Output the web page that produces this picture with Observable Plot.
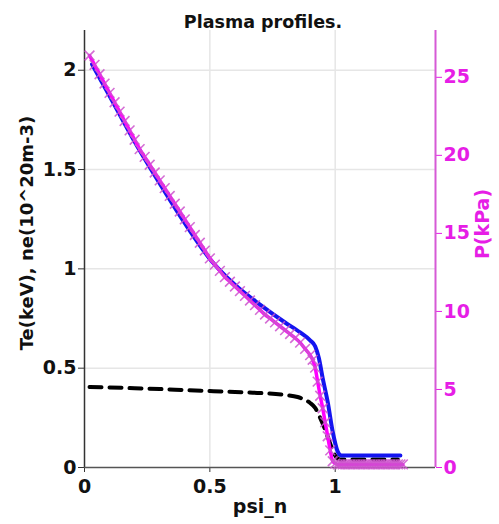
<!DOCTYPE html>
<html>
<head>
<meta charset="utf-8">
<script src="https://cdn.jsdelivr.net/npm/d3@7"></script>
<script src="https://cdn.jsdelivr.net/npm/@observablehq/plot@0.6"></script>
<style>
  html, body { margin: 0; padding: 0; background: #fff; }
</style>
</head>
<body>
<div id="chart"></div>
<script>
// Te (keV), blue solid
const tePsi = [0.03, 0.1, 0.2, 0.3, 0.4, 0.5, 0.6, 0.7, 0.8, 0.86, 0.9, 0.92, 0.935, 0.95, 0.97, 0.99, 1.01, 1.025, 1.1, 1.2, 1.26];
const teVal = [2.03, 1.87, 1.64, 1.43, 1.23, 1.05, 0.92, 0.82, 0.73, 0.68, 0.64, 0.61, 0.55, 0.45, 0.33, 0.18, 0.08, 0.06, 0.06, 0.06, 0.06];

// ne (10^20 m-3), black dashed
const nePsi = [0.02, 0.1, 0.2, 0.3, 0.4, 0.5, 0.6, 0.7, 0.8, 0.85, 0.88, 0.9, 0.92, 0.94, 0.96, 0.98, 1.0, 1.02, 1.1, 1.2, 1.25];
const neVal = [0.405, 0.403, 0.399, 0.395, 0.39, 0.385, 0.38, 0.375, 0.365, 0.355, 0.34, 0.325, 0.30, 0.25, 0.19, 0.12, 0.06, 0.04, 0.04, 0.04, 0.04];

// P (kPa), magenta with x markers
const pPsi = [0.02, 0.04, 0.06, 0.08, 0.10, 0.12, 0.14, 0.16, 0.18, 0.20, 0.22, 0.24, 0.26, 0.28, 0.30,
  0.32, 0.34, 0.36, 0.38, 0.40, 0.42, 0.44, 0.46, 0.48, 0.50, 0.52, 0.54, 0.56, 0.58, 0.60,
  0.62, 0.64, 0.66, 0.68, 0.70, 0.72, 0.74, 0.76, 0.78, 0.80, 0.82, 0.84, 0.86, 0.88, 0.90,
  0.91, 0.92, 0.93, 0.94, 0.95, 0.96, 0.97, 0.98, 0.99, 1.00, 1.01, 1.02, 1.03, 1.04, 1.05,
  1.06, 1.07, 1.08, 1.09, 1.10, 1.11, 1.12, 1.13, 1.14, 1.15, 1.16, 1.17, 1.18, 1.19, 1.20,
  1.21, 1.22, 1.23, 1.24, 1.25, 1.26, 1.27];
const pVal = [26.4, 25.8, 25.2, 24.6, 24.0, 23.4, 22.8, 22.2, 21.6, 21.0, 20.4, 19.9, 19.4, 18.9, 18.4,
  17.9, 17.4, 16.9, 16.4, 15.9, 15.4, 14.9, 14.4, 13.9, 13.4, 13.0, 12.6, 12.2, 11.9, 11.6,
  11.3, 11.0, 10.7, 10.4, 10.1, 9.8, 9.55, 9.3, 9.05, 8.8, 8.55, 8.3, 8.0, 7.6, 7.2,
  6.9, 6.4, 5.5, 4.6, 3.8, 2.9, 2.0, 1.1, 0.4, 0.25, 0.2, 0.2, 0.2, 0.2, 0.2,
  0.2, 0.2, 0.2, 0.2, 0.2, 0.2, 0.2, 0.2, 0.2, 0.2, 0.2, 0.2, 0.2, 0.2, 0.2,
  0.2, 0.2, 0.2, 0.2, 0.2, 0.2, 0.2];

const xTicks = [0, 0.5, 1];
const yTicks = [0, 0.5, 1, 1.5, 2];
const pTicks = [0, 5, 10, 15, 20, 25];

const yMax = 2.2, pMax = 28;
const k = yMax / pMax;

const te = tePsi.map((x, i) => ({x, y: teVal[i]}));
const ne = nePsi.map((x, i) => ({x, y: neVal[i]}));
const pr = pPsi.map((x, i) => ({x, y: pVal[i] * k}));

const MAG = "#e61ee6";
const font = "'DejaVu Sans', sans-serif";

const chart = Plot.plot({
  width: 499,
  height: 524,
  marginLeft: 84,
  marginRight: 64,
  marginTop: 30,
  marginBottom: 57,
  style: {fontFamily: font, fontSize: "19px", fontWeight: "bold", background: "#fff", color: "#111"},
  x: {domain: [0, 1.4]},
  y: {domain: [0, yMax]},
  marks: [
    Plot.gridX(xTicks.slice(1), {stroke: "#e6e6e6", strokeOpacity: 1, strokeWidth: 1.5}),
    Plot.gridY(yTicks.slice(1), {stroke: "#e6e6e6", strokeOpacity: 1, strokeWidth: 1.5}),
    Plot.axisX(xTicks, {tickSize: 5, tickPadding: 7, label: null, stroke: "#333", fill: "#111", tickFormat: d => String(d)}),
    Plot.axisY(yTicks, {tickSize: 6, tickPadding: 2, label: null, stroke: "#333", fill: "#111", tickFormat: d => String(d)}),
    Plot.axisY(pTicks.map(v => v * k), {anchor: "right", tickSize: 6, tickPadding: 2, label: null,
      tickFormat: d => String(Math.round(d / k)), stroke: MAG, fill: MAG}),
    Plot.ruleX([0], {stroke: "#333", strokeWidth: 1.5}),
    Plot.ruleY([0], {stroke: "#555", strokeWidth: 1.5}),
    Plot.ruleX([1.4], {stroke: "#d65ad6", strokeWidth: 2}),
    Plot.line(ne, {x: "x", y: "y", stroke: "#000", strokeWidth: 4, strokeDasharray: "12,8", curve: "monotone-x"}),
    Plot.line(te, {x: "x", y: "y", stroke: "#1414f0", strokeWidth: 4, curve: "monotone-x"}),
    Plot.line(pr, {x: "x", y: "y", stroke: "#ff00ff", strokeWidth: 3.5, curve: "monotone-x"}),
    Plot.dot(pr, {x: "x", y: "y", symbol: "times", r: 4.5, stroke: "#cc55cc", strokeWidth: 1.6, strokeOpacity: 0.85}),
    Plot.text(["Plasma profiles."], {frameAnchor: "top", textAnchor: "middle", dy: -15, dx: 3, fontSize: 17.5, fill: "#111"}),
    Plot.text(["psi_n"], {frameAnchor: "bottom", textAnchor: "middle", dy: 45, fontSize: 19, fill: "#111"}),
    Plot.text(["Te(keV), ne(10^20m-3)"], {frameAnchor: "left", textAnchor: "middle", dx: -57, dy: -16, rotate: -90, fontSize: 18, fill: "#111"}),
    Plot.text(["P(kPa)"], {frameAnchor: "right", textAnchor: "middle", dx: 47, dy: -25, rotate: -90, fontSize: 19, fill: MAG})
  ]
});
document.getElementById("chart").appendChild(chart);
</script>
</body>
</html>
